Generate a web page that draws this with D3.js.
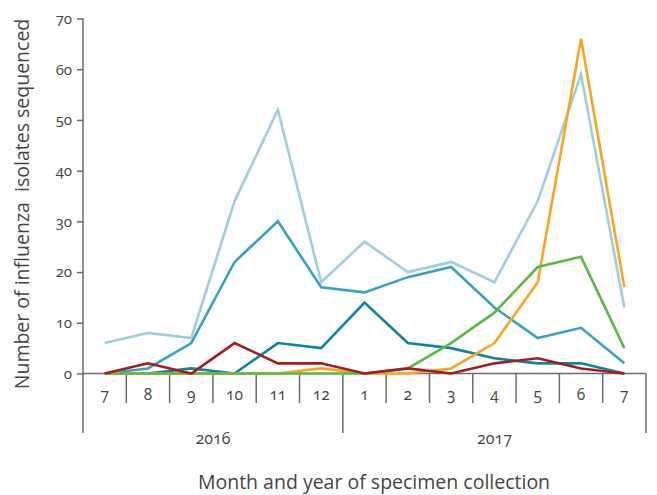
<!DOCTYPE html>
<html>
<head>
<meta charset="utf-8">
<script src="https://cdn.jsdelivr.net/npm/d3@7"></script>
<style>
  html, body { margin: 0; padding: 0; background: #fff; }
  svg text { font-family: "Open Sans", "Lato", sans-serif; fill: #444; font-feature-settings: "onum" 1; font-variant-numeric: oldstyle-nums; }
</style>
</head>
<body>
<svg id="chart" width="657" height="495"></svg>
<script>
const months = ["7","8","9","10","11","12","1","2","3","4","5","6","7"];
const years = [{label:"2016", from:0, to:6}, {label:"2017", from:6, to:13}];
const yTicks = [0,10,20,30,40,50,60,70];

const seriesLightBlue = [6,8,7,34,52,18,26,20,22,18,34,59,13];
const seriesMedBlue   = [0,1,6,22,30,17,16,19,21,13,7,9,2];
const seriesTeal      = [0,0,1,0,6,5,14,6,5,3,2,2,0];
const seriesOrange    = [0,0,0,0,0,1,0,0,1,6,18,66,17];
const seriesGreen     = [0,0,0,0,0,0,0,1,6,12,21,23,5];
const seriesRed       = [0,2,0,6,2,2,0,1,0,2,3,1,0];

const series = [
  {values: seriesLightBlue, color: "#9fcde0"},
  {values: seriesMedBlue,   color: "#36a2c1"},
  {values: seriesTeal,      color: "#0a86a3"},
  {values: seriesOrange,    color: "#f9a51b"},
  {values: seriesGreen,     color: "#5cb947"},
  {values: seriesRed,       color: "#a51c20"}
];

const svg = d3.select("#chart");
const mLeft = 83, mRight = 646, mTop = 18.5, mBottom = 373.5;
const axisColor = "#6b6b6b";

const idx = months.map((d,i)=>i);
const x = d3.scaleBand().domain(idx).range([mLeft, mRight]).paddingInner(0).paddingOuter(0);
const y = d3.scaleLinear().domain([0,70]).range([mBottom, mTop]);

// y axis
const yAxis = d3.axisLeft(y).tickValues(yTicks).tickSize(6).tickPadding(5);
const gy = svg.append("g").attr("transform", `translate(${mLeft},0)`).call(yAxis);
gy.select(".domain").remove();
gy.selectAll(".tick line").attr("stroke", axisColor).attr("stroke-width", 1.5);
gy.selectAll(".tick text").attr("font-size", 15).attr("fill", "#444");
svg.append("line").attr("x1", mLeft).attr("x2", mLeft).attr("y1", mTop - 0.5).attr("y2", 433)
  .attr("stroke", axisColor).attr("stroke-width", 1.5);

// x axis baseline
svg.append("line").attr("x1", mLeft).attr("x2", mRight).attr("y1", mBottom).attr("y2", mBottom)
  .attr("stroke", axisColor).attr("stroke-width", 1.5);

// month dividers
const boundaries = d3.range(1, months.length + 1);
const yearBounds = new Set(years.map(d => d.to));
svg.append("g").selectAll("line").data(boundaries).join("line")
  .attr("x1", d => d < months.length ? x(d) : mRight)
  .attr("x2", d => d < months.length ? x(d) : mRight)
  .attr("y1", mBottom)
  .attr("y2", d => yearBounds.has(d) ? 433 : 403)
  .attr("stroke", axisColor).attr("stroke-width", 1.5);

// month labels
svg.append("g").selectAll("text").data(months).join("text")
  .attr("x", (d,i) => x(i) + x.bandwidth()/2)
  .attr("y", 400)
  .attr("text-anchor", "middle")
  .attr("font-size", 15.5)
  .text(d => d);

// year labels
svg.append("g").selectAll("text").data(years).join("text")
  .attr("x", d => ((d.from < months.length ? x(d.from) : mRight) + (d.to < months.length ? x(d.to) : mRight)) / 2)
  .attr("y", 444)
  .attr("text-anchor", "middle")
  .attr("font-size", 16)
  .text(d => d.label);

// lines
const line = d3.line().x((d,i) => x(i) + x.bandwidth()/2).y(d => y(d));
svg.append("g").selectAll("path").data(series).join("path")
  .attr("d", d => line(d.values))
  .attr("fill", "none")
  .attr("stroke", d => d.color)
  .attr("stroke-width", 2.6)
  .attr("stroke-linejoin", "miter");

// axis titles
svg.append("text")
  .attr("x", 374).attr("y", 489)
  .attr("text-anchor", "middle")
  .attr("font-size", 19.5)
  .text("Month and year of specimen collection");

svg.append("text")
  .attr("transform", `translate(29,204) rotate(-90)`)
  .attr("text-anchor", "middle")
  .attr("font-size", 19.5)
  .attr("xml:space", "preserve")
  .style("white-space", "pre")
  .text("Number of influenza  isolates sequenced");
</script>
</body>
</html>
